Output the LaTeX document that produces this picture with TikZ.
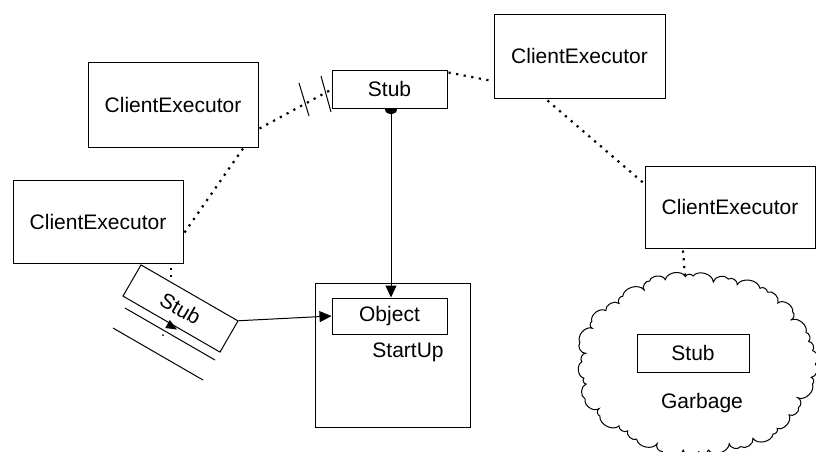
\documentclass[tikz,border=0pt]{standalone}
\usepackage{fontspec}
\setmainfont{Liberation Sans}
\usetikzlibrary{arrows.meta,calc}
\begin{document}
\begin{tikzpicture}[x=1pt,y=-1pt,
  box/.style={draw,line width=1pt,rectangle,inner sep=0pt,font=\fontsize{21}{24}\selectfont},
  lbl/.style={font=\fontsize{21}{24}\selectfont,inner sep=0pt},
  dots/.style={line width=2.2pt,dash pattern=on 2.2pt off 5.5pt},
  thin/.style={line width=1pt},
  arr/.style={line width=1pt,-{Triangle[length=12pt,width=11pt]}}]
\useasboundingbox (0,0) rectangle (816,451);
\clip (0,0) rectangle (816,451);

% cloud (irregular small puffs)
\coordinate (cc) at (697,364);
\foreach \i in {0,...,47} {
  \pgfmathsetmacro\a{\i*7.5+2*sin(\i*137)}
  \pgfmathsetmacro\f{1+0.03*sin(\i*211)+0.02*cos(\i*53)}
  \coordinate (cp\i) at ($(cc)+({116*\f*cos(\a)},{87*\f*sin(\a)})$);
}
\draw[thin] (cp0) foreach \i in {1,...,47} { to[bend left=70] (cp\i) } to[bend left=70] (cp0);
\coordinate (cloudtop) at ($(cc)+(-12,-88)$);

\node[box,minimum width=170pt,minimum height=85pt] (ce1) at (173,104.5) {ClientExecutor};
\node[box,minimum width=170pt,minimum height=83pt] (ce2) at (98,221.5) {ClientExecutor};
\node[box,minimum width=171pt,minimum height=84pt] (ce3) at (579.5,56) {ClientExecutor};
\node[box,minimum width=170pt,minimum height=82pt] (ce4) at (730,207) {ClientExecutor};

\node[box,minimum width=115pt,minimum height=38pt] (stubtop) at (389.5,89) {Stub};
\node[box,minimum width=112pt,minimum height=36pt,rotate=-30] (stubrot) at (180.5,308.5) {Stub};

\node[draw,thin,minimum width=155pt,minimum height=144pt,inner sep=0pt] (startup) at (392.5,355) {};
\node[box,minimum width=115pt,minimum height=36pt] (object) at (389.5,316) {Object};
\node[lbl] (startuplbl) at (408,352) {StartUp};

\node[box,minimum width=112pt,minimum height=38pt] (gstub) at (693,353) {Stub};
\node[lbl] (garbage) at (702,403) {Garbage};

% dotted ring
\draw[dots] ($(ce2.east)+(1,11)$) -- ($(ce1.south)+(70,1)$);
\draw[dots] ($(ce1.east)+(1,24)$) -- ($(stubtop.west)+(-1,1)$);
\draw[dots] ($(stubtop.north east)+(1,3)$) -- ($(ce3.west)+(-1,25)$);
\draw[dots] ($(ce3.south)+(-32,2)$) -- ($(ce4.west)+(-1,-24)$);
\draw[dots] ($(ce4.south)+(-47,2)$) -- (cloudtop);
\draw[dots] ($(ce2.south)+(73,4)$) -- ($(ce2.south)+(73,18)$);

% slashes across the dotted line
\coordinate (s1a) at (299,83);
\coordinate (s1b) at (309,116);
\coordinate (s2a) at (321,76);
\coordinate (s2b) at (331,112);
\draw[thin] (s1a) -- (s1b);
\draw[thin] (s2a) -- (s2b);

% parallel lines under rotated stub
\coordinate (p1a) at (125,308);
\coordinate (p1b) at (215,360);
\coordinate (p2a) at (113,328);
\coordinate (p2b) at (203,380);
\draw[thin] (p1a) -- (p1b);
\draw[thin] (p2a) -- (p2b);
\fill (177,329.5) -- (165.3,328) -- (169.8,320) -- cycle;
\fill (163,335) circle[radius=1];

% ball under top stub
\fill ($(stubtop.south)+(-4.5,0)$) .. controls ($(stubtop.south)+(-4.5,7)$) and ($(stubtop.south)+(7.5,7)$) .. ($(stubtop.south)+(7.5,0)$) -- cycle;

% arrows
\draw[arr] ($(stubtop.south)+(1.5,0)$) -- ($(object.north)+(1.5,0)$);
\draw[arr] (stubrot.north east) -- (object.west);
\end{tikzpicture}
\end{document}
